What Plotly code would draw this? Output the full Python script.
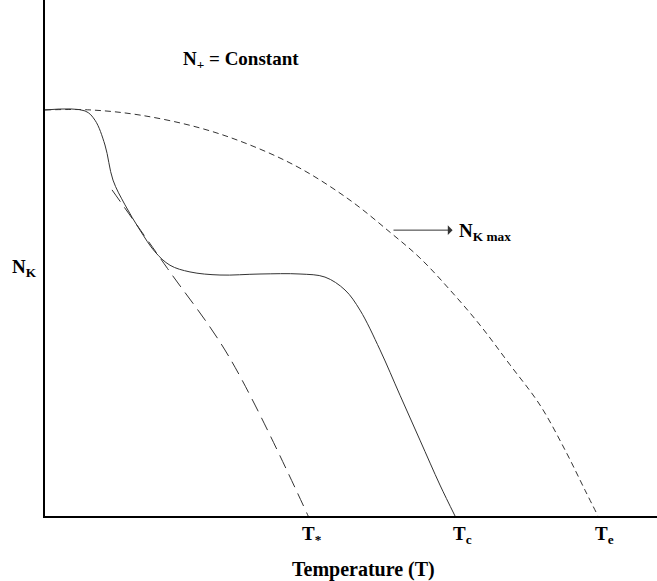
import plotly.graph_objects as go

# N_K max envelope (dashed)
t_max = [0, 0.735, 1.552, 2.533, 3.350, 4.167, 4.984, 5.637, 6.127, 6.618, 7.108, 7.598, 8.088, 8.497, 8.824, 9.036]
n_max = [7.87, 7.87, 7.77, 7.52, 7.19, 6.74, 6.12, 5.50, 5.00, 4.38, 3.70, 2.93, 2.15, 1.28, 0.50, 0]

# N_K at constant N+ (solid)
t_nk = [0, 0.654, 0.817, 0.980, 1.111, 1.307, 1.552, 1.797, 2.042, 2.369, 2.859, 3.513, 4.167, 4.575, 4.902, 5.147, 5.474, 5.801, 6.127, 6.454, 6.700]
n_nk = [7.87, 7.85, 7.67, 7.19, 6.51, 6.03, 5.54, 5.12, 4.86, 4.73, 4.67, 4.69, 4.69, 4.63, 4.38, 3.99, 3.22, 2.34, 1.47, 0.60, 0]

# Extrapolated tangent (long dash)
t_tan = [1.095, 2.0, 3.0, 4.300]
n_tan = [6.32, 4.80, 3.10, 0]

# Tick labels on T axis
t_labels = ["T<sub>*</sub>", "T<sub>c</sub>", "T<sub>e</sub>"]
t_label_pos = [4.36, 6.83, 9.15]

FONT = "Liberation Serif"
LC = "#333333"
FS = 19

fig = go.Figure()
fig.add_trace(go.Scatter(x=t_max, y=n_max, mode="lines", line=dict(color=LC, width=1, dash="6px,4px"), line_shape="spline", hoverinfo="skip"))
fig.add_trace(go.Scatter(x=t_nk, y=n_nk, mode="lines", line=dict(color=LC, width=1), line_shape="spline", hoverinfo="skip"))
fig.add_trace(go.Scatter(x=t_tan, y=n_tan, mode="lines", line=dict(color=LC, width=1, dash="14px,7px"), line_shape="spline", hoverinfo="skip"))

ann = []
for lab, pos in zip(t_labels, t_label_pos):
    ann.append(dict(x=pos / 10, y=-0.036, xref="paper", yref="paper", xanchor="center", yanchor="middle",
                    text="<b>" + lab + "</b>", showarrow=False,
                    font=dict(family=FONT, size=FS, color="black")))
ann.append(dict(x=0.521, y=-0.103, xref="paper", yref="paper", xanchor="center", yanchor="middle",
                text="<b>Temperature (T)</b>", showarrow=False,
                font=dict(family=FONT, size=20, color="black")))
ann.append(dict(x=3.2, y=8.84, xref="x", yref="y", text="<b>N<sub>+</sub> = Constant</b>", showarrow=False,
                font=dict(family=FONT, size=FS, color="black")))
ann.append(dict(x=-0.033, y=0.48, xref="paper", yref="paper", xanchor="center", yanchor="middle",
                text="<b>N<sub>K</sub></b>", showarrow=False,
                font=dict(family=FONT, size=FS, color="black")))
ann.append(dict(x=6.66, y=5.54, ax=5.67, ay=5.54, xref="x", yref="y", axref="x", ayref="y", text="",
                showarrow=True, arrowhead=1, arrowsize=1.6, arrowwidth=1, arrowcolor=LC))
ann.append(dict(x=6.73, y=5.50, xref="x", yref="y", text="<b>N<sub>K max</sub></b>", showarrow=False, xanchor="left",
                font=dict(family=FONT, size=FS, color="black")))

fig.update_layout(
    width=657, height=581,
    margin=dict(l=45, r=0, t=0, b=65),
    plot_bgcolor="white", paper_bgcolor="white",
    showlegend=False,
    annotations=ann,
    xaxis=dict(range=[0, 10], showgrid=False, zeroline=False, showticklabels=False, ticks="",
               showline=True, linecolor="black", linewidth=2),
    yaxis=dict(range=[0, 10], showgrid=False, zeroline=False, showticklabels=False, ticks="",
               showline=True, linecolor="black", linewidth=2),
)
fig.write_html("out.html")
